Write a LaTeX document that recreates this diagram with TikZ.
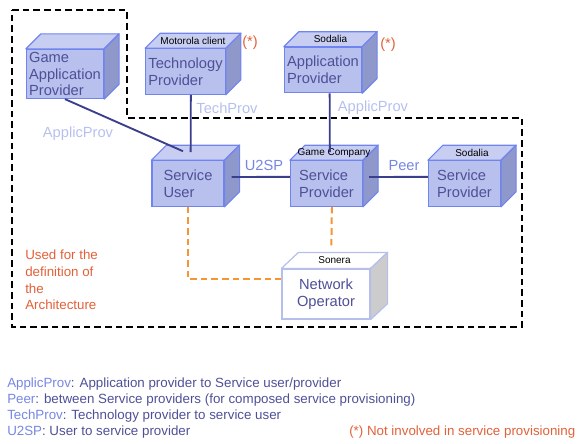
\documentclass[tikz,border=0pt]{standalone}
\usepackage{fontspec}
\setmainfont{Liberation Sans}
\usetikzlibrary{positioning}
\definecolor{boxfront}{RGB}{184,192,238}
\definecolor{boxtop}{RGB}{200,206,242}
\definecolor{boxside}{RGB}{142,152,202}
\definecolor{boxedge}{RGB}{112,132,240}
\definecolor{boxtext}{RGB}{78,80,150}
\definecolor{noedge}{RGB}{182,190,236}
\definecolor{noside}{RGB}{204,204,204}
\definecolor{navy}{RGB}{58,62,140}
\definecolor{pale}{RGB}{182,192,238}
\definecolor{ifc}{RGB}{118,134,228}
\definecolor{orng}{RGB}{245,150,50}
\definecolor{rust}{RGB}{226,96,56}
\tikzset{
  box/.style={draw=boxedge,fill=boxfront,line width=0.9pt,minimum width=54pt,minimum height=34pt,inner sep=2pt,align=left,text=boxtext,font=\fontsize{11}{12.5}\selectfont},
  topf/.style={draw=boxedge,fill=boxtop,line width=0.9pt,line join=round},
  sidef/.style={draw=boxedge,fill=boxside,line width=0.9pt,line join=round},
  clab/.style={font=\fontsize{7.5}{9}\selectfont,inner sep=0pt},
  lnk/.style={navy,line width=1.4pt},
  olnk/.style={orng,line width=1.5pt,dash pattern=on 5pt off 3pt},
  frame/.style={black,line width=1.5pt,dash pattern=on 5pt off 3pt},
  plab/.style={text=pale,font=\fontsize{11}{13}\selectfont},
  ilab/.style={text=ifc,font=\fontsize{11}{13}\selectfont},
  note/.style={text=rust,font=\fontsize{10}{12.4}\selectfont},
  key/.style={anchor=west,inner sep=0pt,text=boxtext,font=\fontsize{10}{12}\selectfont}
}
\begin{document}
\begin{tikzpicture}[x=0.75pt,y=-0.75pt]
  \useasboundingbox (0,0) rectangle (578,443);
  \draw[frame] (12,10) -- (127,10) -- (127,118) -- (522,118) -- (522,327) -- (12,327) -- cycle;
  \node[box] (gap) at (65,74) {Game\\Application\\Provider};
  \node[box] (tp) at (185.5,71.5) {Technology\\Provider};
  \node[box] (ap) at (323,70) {Application\\Provider};
  \node[box] (su) at (188,183.5) {Service\\User};
  \node[box] (sp) at (326.5,183.5) {Service\\Provider};
  \node[box] (sps) at (464.5,183.5) {Service\\Provider};
  \node[box,fill=white,draw=noedge,minimum width=66pt,minimum height=37.5pt,align=center] (no) at (326,294) {Network\\Operator};
  \foreach \n in {gap,tp,ap,su,sp,sps}{
    \draw[topf] (\n.north west) -- ([shift={(15,-15)}]\n.north west) -- ([shift={(15,-15)}]\n.north east) -- (\n.north east) -- cycle;
    \draw[sidef] (\n.north east) -- ([shift={(15,-15)}]\n.north east) -- ([shift={(15,-15)}]\n.south east) -- (\n.south east) -- cycle;
  }
  \draw[topf,draw=noedge,fill=white] (no.north west) -- ([shift={(17,-16)}]no.north west) -- ([shift={(17,-16)}]no.north east) -- (no.north east) -- cycle;
  \draw[sidef,draw=noedge,fill=noside] (no.north east) -- ([shift={(17,-16)}]no.north east) -- ([shift={(17,-16)}]no.south east) -- (no.south east) -- cycle;
  \node[clab] (tpc) at ([shift={(7.5,-7.5)}]tp.north) {Motorola client};
  \node[clab] (apc) at ([shift={(7.5,-7.5)}]ap.north) {Sodalia};
  \node[clab] (spc) at ([shift={(7.5,-7.5)}]sp.north) {Game Company};
  \node[clab] (spsc) at ([shift={(7.5,-7.5)}]sps.north) {Sodalia};
  \node[clab] (noc) at ([shift={(8.5,-8)}]no.north) {Sonera};
  \draw[lnk] (gap.south) -- ([shift={(-5,-9)}]su.north);
  \draw[lnk] ([xshift=4pt]tp.south) -- ([xshift=2pt,yshift=6pt]su.north);
  \draw[lnk] ([xshift=5pt]ap.south) -- ([xshift=2.5pt,yshift=6pt]sp.north);
  \draw[lnk] ([shift={(7,-6.5)}]su.east) -- ([yshift=5pt]sp.west);
  \draw[lnk] ([shift={(6,-6.5)}]sp.east) -- ([yshift=5pt]sps.west);
  \draw[olnk] (su.south) |- ([yshift=11pt]no.west);
  \draw[olnk] ([xshift=4pt]sp.south) -- ([xshift=4pt,yshift=15pt]no.north);
  \node[plab] (l1) at (78,134) {ApplicProv};
  \node[plab] (l2) at (227,108) {TechProv};
  \node[plab] (l3) at (373,108) {ApplicProv};
  \node[ilab] (l4) at (264,165) {U2SP};
  \node[ilab] (l5) at (404,166) {Peer};
  \node[note,font=\fontsize{11}{13}\selectfont] (s1) at (250,43) {(*)};
  \node[note,font=\fontsize{11}{13}\selectfont] (s2) at (388,45) {(*)};
  \node[note,anchor=north west,align=left,inner sep=0pt] (arch) at (25,250) {Used for the\\definition of\\the\\Architecture};
  \node[key] (k1) at (7,384) {\textcolor{ifc}{ApplicProv}: Application provider to Service user/provider};
  \node[key] (k2) at (7,400) {\textcolor{ifc}{Peer}: between Service providers (for composed service provisioning)};
  \node[key] (k3) at (7,416) {\textcolor{ifc}{TechProv}: Technology provider to service user};
  \node[key] (k4) at (7,432) {\textcolor{ifc}{U2SP}: User to service provider};
  \node[key,text=rust] (k5) at (349,432) {(*) Not involved in service provisioning};
\end{tikzpicture}
\end{document}
